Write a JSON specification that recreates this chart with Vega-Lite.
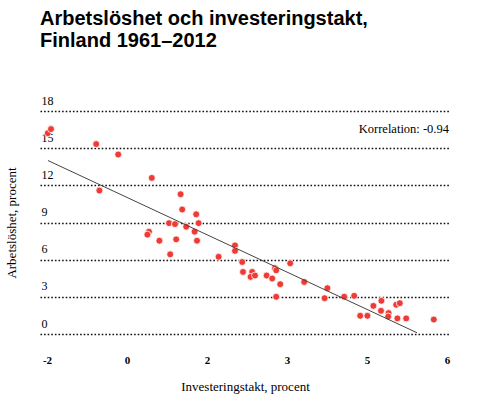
{
  "$schema": "https://vega.github.io/schema/vega-lite/v6.json",
  "autosize": "none",
  "width": 410,
  "height": 223,
  "padding": {"left": 40, "top": 111, "right": 30, "bottom": 65},
  "background": "white",
  "title": {
    "text": ["Arbetslöshet och investeringstakt,", "Finland 1961–2012"],
    "anchor": "start",
    "frame": "group",
    "font": "Liberation Sans",
    "fontSize": 20,
    "fontWeight": "bold",
    "lineHeight": 22,
    "color": "#000",
    "offset": 43
  },
  "config": {
    "view": {"stroke": null},
    "axis": {
      "labelFont": "Liberation Serif",
      "titleFont": "Liberation Serif",
      "labelColor": "#000",
      "titleColor": "#000",
      "titleFontWeight": "normal",
      "domain": false,
      "ticks": false,
      "tickSize": 0,
      "labelOverlap": false,
      "labelFlush": false
    }
  },
  "encoding": {
    "x": {
      "field": "x", "type": "quantitative",
      "scale": {"domain": [-2.175, 8.075], "nice": false, "zero": false},
      "axis": {
        "values": [-2, 0, 2, 4, 6, 8],
        "tickCount": 20,
        "labelExpr": "['-2','0','2','3','5','6'][round((datum.value + 2) / 2)]",
        "labelOverlap": false,
        "labelBound": false,
        "labelSeparation": 0,
        "zindex": 1,
        "grid": false,
        "labelFontSize": 11,
        "labelFontWeight": "bold",
        "labelPadding": 20,
        "title": "Investeringstakt, procent",
        "titleFontSize": 13,
        "titlePadding": 15
      }
    },
    "y": {
      "field": "y", "type": "quantitative",
      "scale": {"domain": [0, 18], "nice": false},
      "axis": {
        "values": [0, 3, 6, 9, 12, 15, 18],
        "tickCount": 20,
        "grid": true,
        "gridColor": "#111",
        "gridWidth": 1.6,
        "gridDash": [1.6, 2],
        "labelAlign": "left",
        "labelBaseline": "bottom",
        "labelPadding": -1,
        "labelOffset": -4,
        "labelFontSize": 12,
        "title": "Arbetslöshet, procent",
        "titleFontSize": 13,
        "titlePadding": 22
      }
    }
  },
  "layer": [
    {
      "data": {
        "values": [
          {"x": -1.98, "y": 16.21}, {"x": -1.9, "y": 16.54}, {"x": -0.77, "y": 15.33},
          {"x": -0.22, "y": 14.49}, {"x": 0.62, "y": 12.6}, {"x": -0.69, "y": 11.58},
          {"x": 1.34, "y": 11.28}, {"x": 1.38, "y": 10.05}, {"x": 1.73, "y": 9.66},
          {"x": 1.05, "y": 8.95}, {"x": 1.2, "y": 8.87}, {"x": 1.79, "y": 8.95},
          {"x": 1.48, "y": 8.66}, {"x": 1.69, "y": 8.26}, {"x": 0.55, "y": 8.26},
          {"x": 0.51, "y": 8.02}, {"x": 0.81, "y": 7.53}, {"x": 1.23, "y": 7.64},
          {"x": 1.75, "y": 7.53}, {"x": 1.08, "y": 6.43}, {"x": 2.29, "y": 6.23},
          {"x": 2.7, "y": 7.15}, {"x": 2.7, "y": 6.71}, {"x": 2.88, "y": 5.81},
          {"x": 4.08, "y": 5.71}, {"x": 3.7, "y": 5.31}, {"x": 3.73, "y": 5.14},
          {"x": 2.9, "y": 5.01}, {"x": 3.13, "y": 5.01}, {"x": 3.09, "y": 4.61},
          {"x": 3.2, "y": 4.72}, {"x": 3.49, "y": 4.72}, {"x": 3.63, "y": 4.48},
          {"x": 3.83, "y": 4.02}, {"x": 4.43, "y": 4.2}, {"x": 3.73, "y": 3.0},
          {"x": 5.01, "y": 3.7}, {"x": 4.94, "y": 2.89}, {"x": 5.43, "y": 3.01},
          {"x": 5.68, "y": 3.08}, {"x": 6.16, "y": 2.27}, {"x": 6.36, "y": 2.68},
          {"x": 6.35, "y": 1.87}, {"x": 6.54, "y": 1.69}, {"x": 6.53, "y": 1.41},
          {"x": 6.73, "y": 2.36}, {"x": 6.82, "y": 2.49}, {"x": 5.83, "y": 1.47},
          {"x": 6.01, "y": 1.47}, {"x": 6.76, "y": 1.26}, {"x": 6.98, "y": 1.26},
          {"x": 7.67, "y": 1.17}
        ]
      },
      "mark": {"type": "point", "filled": true, "shape": "circle", "size": 48, "color": "#ef3b36", "opacity": 1, "stroke": "white", "strokeWidth": 0.8}
    },
    {
      "data": {"values": [{"x": -1.975, "y": 14.0}, {"x": 7.25, "y": 0.1}]},
      "mark": {"type": "line", "color": "#444", "strokeWidth": 1}
    },
    {
      "data": {"values": [{"x": 8.05, "y": 16.56, "label": "Korrelation: -0.94"}]},
      "mark": {"type": "text", "align": "right", "baseline": "middle", "font": "Liberation Serif", "fontSize": 12.5, "color": "#000"},
      "encoding": {
        "text": {"field": "label"}
      }
    }
  ]
}
